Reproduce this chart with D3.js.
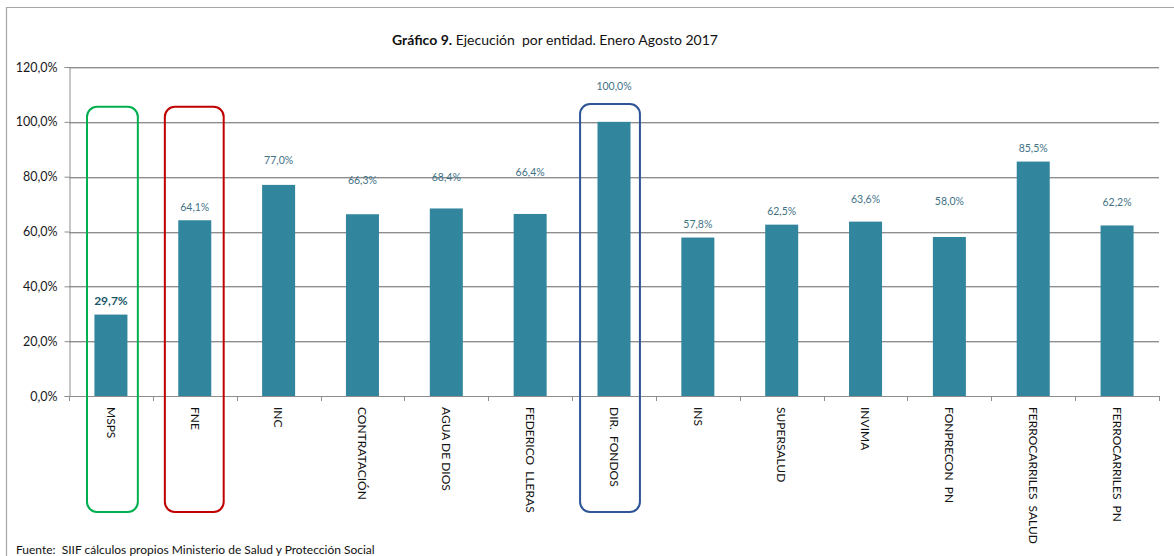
<!DOCTYPE html>
<html><head><meta charset="utf-8">
<script src="https://cdn.jsdelivr.net/npm/d3@7"></script>
<style>body{margin:0;background:#fff} svg{display:block}</style>
</head><body><svg id="c" width="1174" height="556"></svg>
<script>
// ---- data ----
const categories = ["MSPS","FNE","INC","CONTRATACIÓN","AGUA DE DIOS","FEDERICO  LLERAS","DIR.  FONDOS","INS","SUPERSALUD","INVIMA","FONPRECON  PN","FERROCARRILES  SALUD","FERROCARRILES  PN"];
const values = [29.7,64.1,77.0,66.3,68.4,66.4,100.0,57.8,62.5,63.6,58.0,85.5,62.2];
const valueLabels = ["29,7%","64,1%","77,0%","66,3%","68,4%","66,4%","100,0%","57,8%","62,5%","63,6%","58,0%","85,5%","62,2%"];
// where each data label sits (in value units, as placed in the original)
const labelAnchors = [34.8,69.0,86.1,78.8,79.9,81.7,113.1,62.7,67.5,71.9,71.1,90.5,70.5];
const yTicks = [0,20,40,60,80,100,120];
const yTickLabels = ["0,0%","20,0%","40,0%","60,0%","80,0%","100,0%","120,0%"];
const highlighted = ["MSPS","FNE","DIR.  FONDOS"];
const highlightColors = ["#00b050","#c00000","#2f5597"];
const titleBold = "Gráfico 9.";
const titleRest = " Ejecución  por entidad. Enero Agosto 2017";
const sourceNote = "Fuente:  SIIF cálculos propios Ministerio de Salud y Protección Social";

// ---- layout ----
const FONT = "Lato, 'Open Sans', sans-serif";
const svg = d3.select("#c");
const mLeft = 69, mRight = 1159, mTop = 67, mBottom = 396;

const x = d3.scaleBand().domain(categories).range([mLeft, mRight]).paddingInner(0).paddingOuter(0);
const y = d3.scaleLinear().domain([0, 120]).range([mBottom, mTop]);

// outer frame
svg.append("path").attr("d", `M6.5,556 L6.5,7.5 L1174,7.5`).attr("fill","none").attr("stroke","#a6a6a6").attr("stroke-width",1.2);

// gridlines
svg.append("g").selectAll("line").data(yTicks.filter(d=>d>0)).join("line")
  .attr("x1", mLeft).attr("x2", mRight)
  .attr("y1", d=>Math.round(y(d))+0.5).attr("y2", d=>Math.round(y(d))+0.5)
  .attr("stroke","#8e8e8e").attr("stroke-width",1);
svg.append("g").selectAll("line").data(yTicks.filter(d=>d>0)).join("line")
  .attr("x1", mLeft).attr("x2", mRight)
  .attr("y1", d=>Math.round(y(d))+1.5).attr("y2", d=>Math.round(y(d))+1.5)
  .attr("stroke","#d4d4d4").attr("stroke-width",1);

// y axis
const yAxis = d3.axisLeft(y).tickValues(yTicks).tickSize(5).tickPadding(7)
  .tickFormat((d,i)=>yTickLabels[i]);
const gy = svg.append("g").attr("transform",`translate(${mLeft+0.5},0)`).call(yAxis);
gy.select(".domain").attr("stroke","#8e8e8e");
gy.selectAll(".tick line").attr("stroke","#8e8e8e");
gy.selectAll(".tick text").attr("font-family",FONT).attr("font-size",12.5).attr("fill","#1a1a1a");

// bars
const barW = 33;
svg.append("g").selectAll("rect").data(values).join("rect")
  .attr("x",(d,i)=>x(categories[i]) + x.bandwidth()/2 - barW/2)
  .attr("y",d=>y(d)).attr("width",barW).attr("height",d=>mBottom - y(d))
  .attr("fill","#31859c");

// x axis
const xAxisLine = svg.append("g");
xAxisLine.append("line").attr("x1",mLeft).attr("x2",mRight).attr("y1",mBottom+0.5).attr("y2",mBottom+0.5).attr("stroke","#8e8e8e");
xAxisLine.selectAll("line.t").data(d3.range(categories.length+1)).join("line").attr("class","t")
  .attr("x1",i=>Math.round(mLeft + i*x.step())+0.5).attr("x2",i=>Math.round(mLeft + i*x.step())+0.5)
  .attr("y1",mBottom).attr("y2",mBottom+5).attr("stroke","#8e8e8e");

// category labels (rotated)
svg.append("g").selectAll("text").data(categories).join("text")
  .attr("transform",d=>`translate(${x(d)+x.bandwidth()/2},${mBottom+11}) rotate(90)`)
  .attr("dy","0.35em").attr("font-family",FONT).attr("font-size",12).attr("fill","#111")
  .style("white-space","pre").attr("xml:space","preserve")
  .text(d=>d);

// value labels
svg.append("g").selectAll("text").data(valueLabels).join("text")
  .attr("x",(d,i)=>x(categories[i]) + x.bandwidth()/2)
  .attr("y",(d,i)=>y(labelAnchors[i])).attr("dy","0.35em")
  .attr("text-anchor","middle").attr("font-family",FONT)
  .attr("font-size",(d,i)=>i===0?12:10.5)
  .attr("font-weight",(d,i)=>i===0?"bold":"normal")
  .attr("fill",(d,i)=>i===0?"#215868":"#3f7286")
  .text(d=>d);

// highlight boxes
const boxInsets = [[18,15],[12,13],[8,16]];
const boxTop = [105.5,105.5,106.5];
svg.append("g").selectAll("rect").data(highlighted).join("rect")
  .attr("x",(d,i)=>x(d)+boxInsets[i][0])
  .attr("y",(d,i)=>y(boxTop[i]))
  .attr("width",(d,i)=>x.bandwidth()-boxInsets[i][0]-boxInsets[i][1])
  .attr("height",(d,i)=>512 - y(boxTop[i]))
  .attr("rx",10).attr("ry",10)
  .attr("fill","none").attr("stroke",(d,i)=>highlightColors[i]).attr("stroke-width",2);

// title
const t = svg.append("text").attr("x",555).attr("y",40).attr("dy","0.35em")
  .attr("text-anchor","middle").attr("font-family",FONT).attr("font-size",14).attr("fill","#111")
  .attr("xml:space","preserve");
t.append("tspan").attr("font-weight","bold").text(titleBold);
t.append("tspan").text(titleRest);

// source
svg.append("text").attr("x",16).attr("y",550).attr("dy","0.35em")
  .attr("font-family",FONT).attr("font-size",12).attr("fill","#111")
  .attr("xml:space","preserve").text(sourceNote);
</script></body></html>
